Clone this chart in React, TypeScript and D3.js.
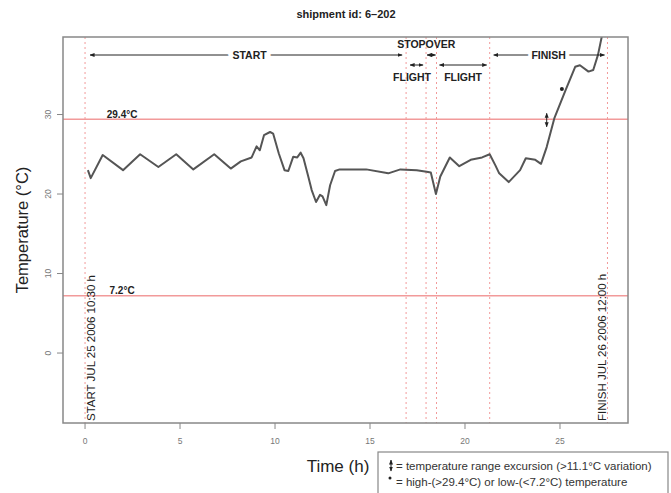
import React from "react";
import * as d3 from "d3";

const timeH = [0.15, 0.3, 0.93, 2.0, 2.9, 3.86, 4.8, 5.7, 6.8, 7.67, 8.2, 8.77, 9.03, 9.2, 9.42, 9.74, 9.9, 10.2, 10.5, 10.7, 10.96, 11.17, 11.35, 11.5, 11.75, 11.93, 12.16, 12.37, 12.5, 12.7, 12.9, 13.16, 13.4, 14.8, 15.96, 16.6, 17.46, 17.98, 18.2, 18.47, 18.7, 19.2, 19.7, 20.3, 20.9, 21.3, 21.6, 21.8, 22.3, 22.9, 23.2, 23.7, 24.0, 24.3, 24.7, 25.3, 25.8, 26.05, 26.5, 26.75, 27.0, 27.2, 27.35];
const tempC = [23.0, 22.0, 24.9, 23.0, 25.0, 23.4, 25.0, 23.1, 25.0, 23.2, 24.1, 24.6, 26.0, 25.5, 27.4, 27.8, 27.6, 25.1, 23.0, 22.9, 24.7, 24.6, 25.2, 24.5, 22.2, 20.5, 19.0, 19.9, 19.7, 18.6, 21.1, 22.9, 23.1, 23.1, 22.6, 23.1, 23.0, 22.8, 22.7, 20.0, 22.2, 24.6, 23.5, 24.3, 24.6, 25.0, 23.6, 22.6, 21.5, 23.0, 24.5, 24.3, 23.8, 25.9, 29.5, 33.1, 36.0, 36.2, 35.4, 35.6, 37.5, 39.8, 42.0];

const xTicks = [0, 5, 10, 15, 20, 25];
const yTicks = [0, 10, 20, 30];
const thresholds = [29.4, 7.2];
const thresholdLabels = ["29.4°C", "7.2°C"];
const stageBounds = [0, 16.9, 17.95, 18.5, 21.3, 27.5];
const topStages = ["START", "STOPOVER", "FINISH"];
const flightStages = ["FLIGHT", "FLIGHT"];
const startLabel = "START JUL 25 2006 10:30 h";
const finishLabel = "FINISH JUL 26 2006 12:00 h";
const excursionTime = 24.3;
const excursionRange = [28.2, 30.4];
const highPoint = [25.1, 33.2];
const legendLines = [
  "= temperature range excursion (>11.1°C variation)",
  "= high-(>29.4°C) or low-(<7.2°C) temperature",
];

const FONT = "'Liberation Sans', Arial, sans-serif";

export default function App() {
  const W = 671, H = 493;
  const L = 63, R = 628, T = 37, B = 423;
  const x = d3.scaleLinear().domain([-1.16, 28.58]).range([L, R]);
  const y = d3.scaleLinear().domain([-8.8, 39.75]).range([B, T]);
  const pts = timeH.map((t, i) => [t, tempC[i]] as [number, number]);
  const line = d3.line<[number, number]>().x(d => x(d[0])).y(d => y(d[1]));

  const arrowY = 55, flightY = 65;
  const red = "#f29a9a";

  const arrow = (x1: number, x2: number, yy: number, key: string) => (
    <line key={key} x1={x1} x2={x2} y1={yy} y2={yy} stroke="#222" strokeWidth={1}
      markerStart="url(#ah)" markerEnd="url(#ah)" />
  );

  return (
    <svg width={W} height={H} style={{ position: "absolute", left: 0, top: 0 }} fontFamily={FONT}>
      <defs>
        <marker id="ah" viewBox="0 0 10 10" refX="9" refY="5" markerWidth="5" markerHeight="5" orient="auto-start-reverse">
          <path d="M0,1 L10,5 L0,9 z" fill="#222" />
        </marker>
        <clipPath id="plot"><rect x={L} y={T} width={R - L} height={B - T} /></clipPath>
      </defs>
      <rect width={W} height={H} fill="#fff" />
      <text x={346} y={18} textAnchor="middle" fontSize={11} fontWeight="bold" fill="#222">shipment id: 6–202</text>

      {/* thresholds */}
      {thresholds.map((v, i) => (
        <g key={"th" + i}>
          <line x1={L} x2={R} y1={y(v)} y2={y(v)} stroke={red} strokeWidth={1.5} />
          <text x={x(1.95)} y={y(v) - 1.5} textAnchor="middle" fontSize={10} fontWeight="bold" fill="#222">{thresholdLabels[i]}</text>
        </g>
      ))}
      {/* stage lines */}
      {stageBounds.map((v, i) => (
        <line key={"sb" + i} x1={x(v)} x2={x(v)} y1={T} y2={B} stroke={red} strokeWidth={1} strokeDasharray="2,3" />
      ))}

      {/* data */}
      <path d={line(pts) || ""} fill="none" stroke="#555" strokeWidth={2} clipPath="url(#plot)" strokeLinejoin="round" />

      {/* excursion markers */}
      <line x1={x(excursionTime)} x2={x(excursionTime)} y1={y(excursionRange[0]) - 2} y2={y(excursionRange[1]) + 2}
        stroke="#222" strokeWidth={1} markerStart="url(#ah)" markerEnd="url(#ah)" />
      <circle cx={x(highPoint[0])} cy={y(highPoint[1])} r={2} fill="#222" />

      {/* stage arrows */}
      {arrow(x(stageBounds[0]) + 5, x(stageBounds[1]) - 4, arrowY, "a1")}
      {arrow(x(stageBounds[2]) + 1, x(stageBounds[3]) - 1, arrowY, "a2")}
      {arrow(x(stageBounds[4]) + 4, x(stageBounds[5]) - 3, arrowY, "a3")}
      {arrow(x(stageBounds[1]) + 4, x(stageBounds[2]) - 3, flightY, "f1")}
      {arrow(x(stageBounds[3]) + 3, x(stageBounds[4]) - 3, flightY, "f2")}
      <text x={x((stageBounds[0] + stageBounds[1]) / 2) + 4} y={arrowY + 4} textAnchor="middle" fontSize={10.5} fontWeight="bold" fill="#222"
        stroke="#fff" strokeWidth={8} paintOrder="stroke">{topStages[0]}</text>
      <text x={x((stageBounds[2] + stageBounds[3]) / 2) - 5} y={arrowY - 7} textAnchor="middle" fontSize={10.5} fontWeight="bold" fill="#222">{topStages[1]}</text>
      <text x={x((stageBounds[4] + stageBounds[5]) / 2)} y={arrowY + 4} textAnchor="middle" fontSize={10.5} fontWeight="bold" fill="#222"
        stroke="#fff" strokeWidth={8} paintOrder="stroke">{topStages[2]}</text>
      <text x={x((stageBounds[1] + stageBounds[2]) / 2) - 4} y={flightY + 16} textAnchor="middle" fontSize={10.5} fontWeight="bold" fill="#222">{flightStages[0]}</text>
      <text x={x((stageBounds[3] + stageBounds[4]) / 2)} y={flightY + 16} textAnchor="middle" fontSize={10.5} fontWeight="bold" fill="#222">{flightStages[1]}</text>

      {/* vertical start/finish labels */}
      <text transform={`translate(${x(stageBounds[0]) + 10},${B - 2}) rotate(-90)`} fontSize={11.5} fill="#222">{startLabel}</text>
      <text transform={`translate(${x(stageBounds[5]) - 1},${B - 2}) rotate(-90)`} fontSize={11.5} fill="#222">{finishLabel}</text>

      {/* box */}
      <rect x={L} y={T} width={R - L} height={B - T} fill="none" stroke="#888" strokeWidth={1.5} />

      {/* x axis */}
      {xTicks.map(t => (
        <g key={"xt" + t}>
          <line x1={x(t)} x2={x(t)} y1={B} y2={B + 6} stroke="#888" />
          <text x={x(t)} y={B + 21} textAnchor="middle" fontSize={8.5} fill="#777">{t}</text>
        </g>
      ))}
      {/* y axis */}
      {yTicks.map(t => (
        <g key={"yt" + t}>
          <line x1={L - 6} x2={L} y1={y(t)} y2={y(t)} stroke="#888" />
          <text transform={`translate(${L - 12},${y(t)}) rotate(-90)`} textAnchor="middle" fontSize={8.5} fill="#777">{t}</text>
        </g>
      ))}
      <text x={338} y={472} textAnchor="middle" fontSize={17} fill="#222">Time (h)</text>
      <text transform={`translate(28,230) rotate(-90)`} textAnchor="middle" fontSize={16.5} fill="#222">Temperature (°C)</text>

      {/* legend */}
      <rect x={378} y={452} width={290} height={48} fill="#fff" stroke="#888" strokeWidth={1.2} />
      <line x1={391} x2={391} y1={460} y2={471} stroke="#222" strokeWidth={1} markerStart="url(#ah)" markerEnd="url(#ah)" />
      <circle cx={390} cy={478} r={1.5} fill="#222" />
      <text x={396} y={470} fontSize={11.5} fill="#333">{legendLines[0]}</text>
      <text x={396} y={486} fontSize={11.5} fill="#333">{legendLines[1]}</text>
    </svg>
  );
}
